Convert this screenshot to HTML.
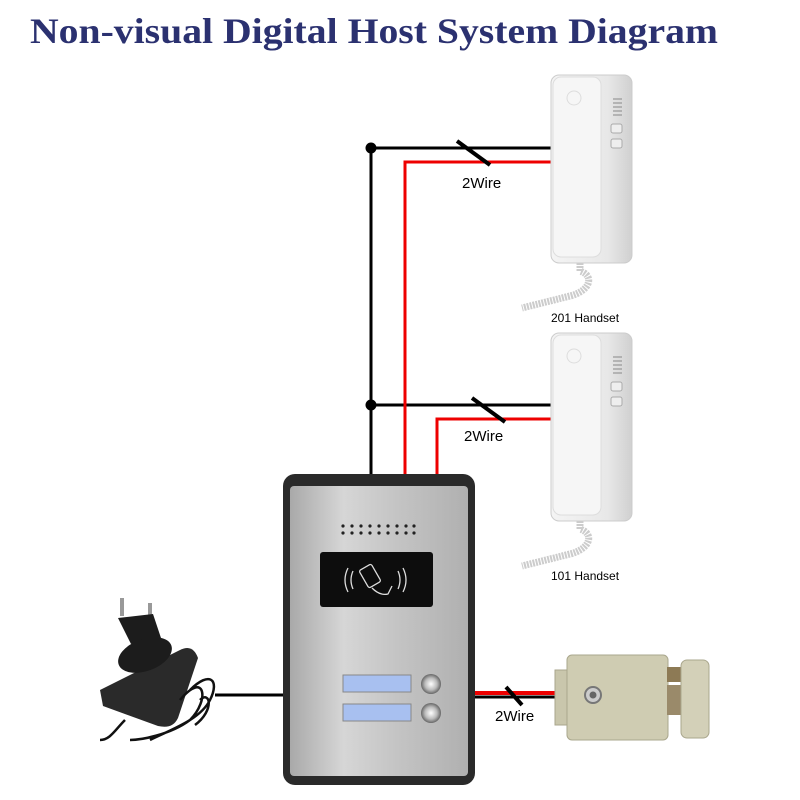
<!DOCTYPE html>
<html><head><meta charset="utf-8"><style>
html,body{margin:0;padding:0;background:#fff;width:800px;height:800px;overflow:hidden}
</style></head><body>
<svg width="800" height="800" viewBox="0 0 800 800" xmlns="http://www.w3.org/2000/svg">
<defs>
<linearGradient id="steel" x1="0" x2="1" y1="0" y2="0">
<stop offset="0" stop-color="#a9a9a9"/><stop offset="0.3" stop-color="#d6d6d6"/><stop offset="0.6" stop-color="#c4c4c4"/><stop offset="1" stop-color="#b0b0b0"/></linearGradient>
<linearGradient id="white" x1="0" x2="1"><stop offset="0" stop-color="#f4f4f4"/><stop offset="0.7" stop-color="#e8e8e8"/><stop offset="1" stop-color="#d0d0d0"/></linearGradient>
<radialGradient id="btn"><stop offset="0" stop-color="#fff"/><stop offset="0.6" stop-color="#bbb"/><stop offset="1" stop-color="#666"/></radialGradient>
</defs>
<text x="30" y="43" font-family="Liberation Serif, serif" font-size="36" fill="#2b3170" font-weight="bold" textLength="688" lengthAdjust="spacingAndGlyphs">Non-visual Digital Host System Diagram</text>

<g fill="none" stroke-width="3">
<path d="M371 475 V148 H551" stroke="#000"/>
<path d="M371 405 H551" stroke="#000"/>
<path d="M405 475 V162 H551" stroke="#e00"/>
<path d="M437 475 V419 H551" stroke="#e00"/>
<path d="M215 695 H284" stroke="#000"/>
<path d="M470 697 H557" stroke="#000"/>
<path d="M470 693 H557" stroke="#e00" stroke-width="4"/>
<path d="M457 141 L490 165 M472 398 L505 422 M506 687 L522 705" stroke="#000" stroke-width="4"/>
</g>
<circle cx="371" cy="148" r="5.5"/><circle cx="371" cy="405" r="5.5"/>
<g font-family="Liberation Sans, sans-serif" font-size="15" fill="#000">
<text x="462" y="188">2Wire</text><text x="464" y="441">2Wire</text><text x="495" y="721">2Wire</text>
<text x="551" y="322" font-size="12">201 Handset</text><text x="551" y="580" font-size="12">101 Handset</text>
</g>

<!-- handsets -->
<g id="h1">
<rect x="551" y="75" width="81" height="188" rx="8" fill="url(#white)" stroke="#ccc"/>
<rect x="553" y="77" width="48" height="180" rx="8" fill="#f6f6f6" stroke="#ddd"/>
<circle cx="574" cy="98" r="7" fill="none" stroke="#ddd"/>
<g stroke="#888" stroke-width="1"><path d="M613 99h9M613 103h9M613 107h9M613 111h9M613 115h9"/></g>
<rect x="611" y="124" width="11" height="9" rx="2" fill="#eee" stroke="#aaa"/>
<rect x="611" y="139" width="11" height="9" rx="2" fill="#eee" stroke="#aaa"/>
<path d="M580 263 v8 c15 5 10 20 -10 25 c-20 5 -40 10 -48 12" fill="none" stroke="#ccc" stroke-width="7" stroke-dasharray="2 1"/>
</g>
<use href="#h1" transform="translate(0 258)"/>

<!-- panel -->
<rect x="283" y="474" width="192" height="311" rx="12" fill="#2a2a2a"/>
<rect x="290" y="486" width="178" height="290" rx="4" fill="url(#steel)"/>
<g fill="#222">
<g id="dr"><circle cx="343" cy="526" r="1.6"/><circle cx="352" cy="526" r="1.6"/><circle cx="361" cy="526" r="1.6"/><circle cx="370" cy="526" r="1.6"/><circle cx="379" cy="526" r="1.6"/><circle cx="388" cy="526" r="1.6"/><circle cx="397" cy="526" r="1.6"/><circle cx="406" cy="526" r="1.6"/><circle cx="414" cy="526" r="1.6"/></g>
<use href="#dr" transform="translate(0 7)"/>
</g>
<rect x="320" y="552" width="113" height="55" rx="3" fill="#0d0d0d"/>
<g fill="none" stroke="#ddd" stroke-width="1.3">
<path d="M348 568 q-6 12 0 24 M353 571 q-4 9 0 18 M403 568 q6 12 0 24 M398 571 q4 9 0 18"/>
<rect x="363" y="566" width="14" height="20" rx="2" transform="rotate(-30 370 576)"/>
<path d="M372 588 q8 8 16 6 l4 -8"/>
</g>
<rect x="343" y="675" width="68" height="17" fill="#a8c0f0" stroke="#888"/>
<rect x="343" y="704" width="68" height="17" fill="#a8c0f0" stroke="#888"/>
<circle cx="431" cy="684" r="10" fill="url(#btn)"/><circle cx="431" cy="713" r="10" fill="url(#btn)"/>

<!-- power adapter -->
<g fill="#1c1c1c">
<rect x="120" y="598" width="4" height="18" fill="#999"/><rect x="148" y="603" width="4" height="18" fill="#999"/>
<path d="M118 618 l35 -4 l8 24 l-30 6 z"/>
<path d="M100 690 l80 -40 c10 -5 15 0 18 8 l-20 60 c-4 8 -10 10 -20 8 l-55 -20 z" fill="#2a2a2a"/>
<ellipse cx="145" cy="655" rx="28" ry="16" transform="rotate(-20 145 655)"/>
</g>
<g fill="none" stroke="#111" stroke-width="2.5">
<path d="M125 720 c-10 10 -15 20 -25 20 M190 690 c20 -20 30 -10 20 10 c-10 20 -40 30 -60 40 M180 700 c25 -30 30 0 10 20 c-20 15 -50 20 -60 20 M200 700 c10 -10 15 10 -5 25"/>
</g>

<!-- lock -->
<rect x="555" y="670" width="14" height="55" fill="#c9c6ac" stroke="#a9a68c"/>
<rect x="567" y="655" width="101" height="85" rx="5" fill="#cfccb2" stroke="#aaa78d"/>
<rect x="667" y="667" width="16" height="15" fill="#8d7a55"/>
<rect x="667" y="685" width="16" height="30" fill="#9a8a6a"/>
<rect x="681" y="660" width="28" height="78" rx="6" fill="#d3d0b8" stroke="#aaa78d"/>
<circle cx="593" cy="695" r="8" fill="#ccc" stroke="#777" stroke-width="2"/><circle cx="593" cy="695" r="3.5" fill="#666"/>
</svg>
</body></html>
